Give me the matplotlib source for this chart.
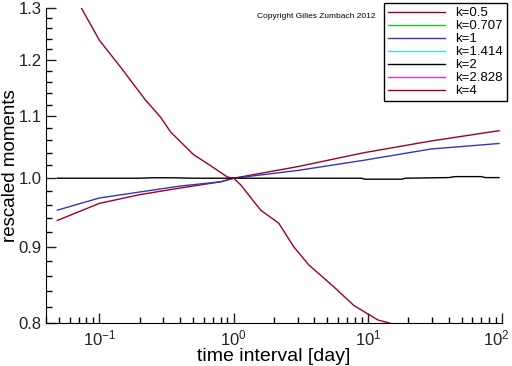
import numpy as np
import matplotlib
matplotlib.use("Agg")
import matplotlib.pyplot as plt
import matplotlib.transforms as mtransforms
from matplotlib.ticker import FixedLocator, FixedFormatter, NullFormatter, LogLocator

plt.rcParams['font.family'] = ['Liberation Sans', 'DejaVu Sans']
plt.rcParams['mathtext.fontset'] = 'custom'
plt.rcParams['mathtext.rm'] = 'Liberation Sans'
plt.rcParams['mathtext.it'] = 'Liberation Sans'

# rescaled moments vs time interval
t_half = [0.0486, 0.1, 0.2, 0.4, 0.8, 1.0, 3.0, 9.3, 29.5, 95]
m_half = [0.937, 0.962, 0.975, 0.985, 0.9945, 1.0, 1.018, 1.040, 1.059, 1.076]

t_one = [0.0486, 0.1, 0.2, 0.4, 0.8, 1.0, 3.0, 9.3, 29.5, 95]
m_one = [0.952, 0.970, 0.979, 0.988, 0.9945, 1.0, 1.012, 1.028, 1.046, 1.055]

t_two = [0.0486, 0.2, 0.25, 0.35, 0.5, 1.0, 9.0, 9.5, 18, 19, 40, 45, 70, 75, 95]
m_two = [1.0, 1.0, 1.0007, 1.0007, 1.0, 1.0, 1.0, 0.9985, 0.9985, 1.0, 1.001, 1.0025, 1.0025, 1.001, 1.001]

t_four = [0.073, 0.1, 0.1435, 0.2206, 0.285, 0.339, 0.503, 0.636, 0.897, 1.0,
          1.128, 1.59, 2.17, 2.80, 3.63, 5.57, 7.86, 11.9, 17.0]
m_four = [1.301, 1.237, 1.187, 1.128, 1.099, 1.074, 1.037, 1.023, 1.002, 1.0,
          0.990, 0.952, 0.933, 0.900, 0.875, 0.846, 0.822, 0.8037, 0.797]

labels = ['k=0.5', 'k=0.707', 'k=1', 'k=1.414', 'k=2', 'k=2.828', 'k=4']
colors = ['#a00020', '#20c020', '#3535c0', '#40e0e0', '#000000', '#e030e0', '#a00020']

y_ticks = [0.8, 0.9, 1.0, 1.1, 1.2, 1.3]
y_ticklabels = ['0.8', '0.9', '1.0', '1.1', '1.2', '1.3']

fig = plt.figure(figsize=(5.12, 3.66), dpi=100)
ax = fig.add_axes([46/512, 1-323/366, 456/512, 315/366])

series = {0: (t_half, m_half), 2: (t_one, m_one), 4: (t_two, m_two), 6: (t_four, m_four)}
handles = []
for i, lab in enumerate(labels):
    if i in series:
        x, y = series[i]
        h, = ax.plot(x, y, color=colors[i], lw=1.0, label=lab)
    else:
        h, = ax.plot([], [], color=colors[i], lw=1.0, label=lab)
    handles.append(h)

ax.set_xscale('log')
ax.set_yscale('log')
ax.set_xlim(0.04, 100)
ax.set_ylim(0.8, 1.3)

ax.yaxis.set_major_locator(FixedLocator(y_ticks))
ax.yaxis.set_major_formatter(FixedFormatter(y_ticklabels))
ax.yaxis.set_minor_locator(FixedLocator(np.arange(0.82, 1.3, 0.02)))
ax.yaxis.set_minor_formatter(NullFormatter())
ax.xaxis.set_major_locator(LogLocator(base=10))
ax.xaxis.set_minor_locator(LogLocator(base=10, subs=np.arange(2, 10)))
ax.xaxis.set_minor_formatter(NullFormatter())

ax.spines['top'].set_visible(False)
ax.spines['right'].set_visible(False)
ax.tick_params(which='major', direction='in', length=7, width=1, labelsize=12, colors='#222222')
ax.tick_params(which='minor', direction='in', length=4, width=1)
ax.tick_params(axis='x', pad=4)
ax.tick_params(axis='y', pad=3)

ax.set_xlabel('time interval [day]', fontsize=14, labelpad=0)
ax.set_ylabel('rescaled moments', fontsize=13.5)
ax.yaxis.set_label_coords(-27/456, 0.5)

fig.canvas.draw()
for lbl in ax.get_xticklabels():
    if lbl.get_text() and '2' in lbl.get_text() and '-' not in lbl.get_text():
        lbl.set_transform(lbl.get_transform() + mtransforms.ScaledTranslation(-6/100, 0, fig.dpi_scale_trans))

fig.text(257/512, 1-17/366, 'Copyright Gilles Zumbach 2012', fontsize=6, va='center')

fig.legend(handles=handles, loc='upper right', bbox_to_anchor=(507/512, 1-3/366),
           fontsize=9.5, frameon=True, fancybox=False, edgecolor='black',
           framealpha=1, labelspacing=0.06, handlelength=4.3, handletextpad=0.8,
           borderpad=0.3, borderaxespad=0)

fig.savefig('out.png', dpi=100)
